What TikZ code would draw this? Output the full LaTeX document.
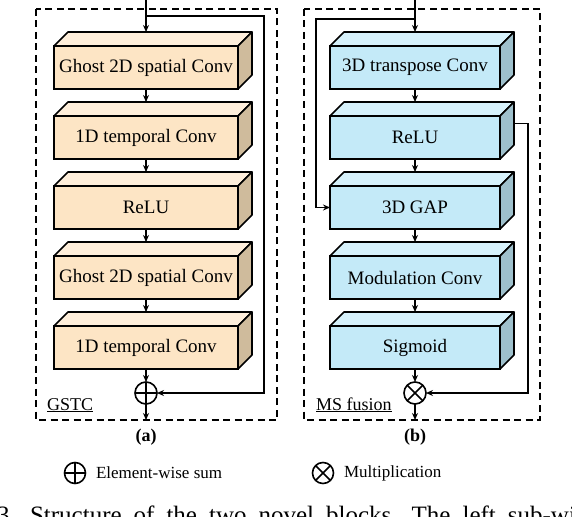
\documentclass[tikz,border=0pt]{standalone}
\usepackage{fontspec}
\setmainfont{Liberation Serif}
\usetikzlibrary{arrows.meta,positioning}
\definecolor{gsfront}{HTML}{FDE5C5}
\definecolor{gstop}{HTML}{FEEEDA}
\definecolor{gsside}{HTML}{CFBB9C}
\definecolor{msfront}{HTML}{C4EAF8}
\definecolor{mstop}{HTML}{D6F1FB}
\definecolor{msside}{HTML}{9EC0CC}
\newcommand{\dep}{14pt}

\begin{document}
\begin{tikzpicture}[x=1pt,y=-1pt,
  blk/.style={draw,line width=1.6pt,minimum height=43pt,inner sep=0pt,outer sep=0pt,
    font=\fontsize{19}{22}\selectfont},
  gs/.style={blk,fill=gsfront,minimum width=184pt},
  ms/.style={blk,fill=msfront,minimum width=170pt},
  face/.style={draw,line width=1.6pt,line join=round},
  op/.style={draw,circle,line width=1.6pt,minimum size=22pt,inner sep=0pt,outer sep=0pt},
  arr/.style={-{Stealth[length=7pt,width=6pt]},line width=1.4pt},
  frame/.style={line width=1.6pt,dash pattern=on 7pt off 4.5pt},
  lbl/.style={font=\fontsize{18}{20}\selectfont,anchor=base west,inner sep=0pt},
  txt/.style={font=\fontsize{17}{20}\selectfont}]
  \useasboundingbox (0,0) rectangle (572,516);
  % (a) GSTC
  \node[gs] (g1) at (146,67.5) {Ghost 2D spatial Conv};
  \node[gs,below=27pt of g1] (t1) {1D temporal Conv};
  \node[gs,below=27pt of t1] (rA) {ReLU};
  \node[gs,below=27pt of rA] (g2) {Ghost 2D spatial Conv};
  \node[gs,below=27pt of g2] (t2) {1D temporal Conv};
  \node[op,below=13pt of t2] (sum) {};
  % (b) MS fusion
  \node[ms] (tc) at (415,67.5) {3D transpose Conv};
  \node[ms,below=27pt of tc] (rB) {ReLU};
  \node[ms,below=27pt of rB] (gap) {3D GAP};
  \node[ms,below=27pt of gap] (mod) {Modulation Conv};
  \node[ms,below=27pt of mod] (sig) {Sigmoid};
  \node[op,below=13pt of sig] (mul) {};
  % top and side faces
  \foreach \b/\t/\s in {g1/gstop/gsside,t1/gstop/gsside,rA/gstop/gsside,g2/gstop/gsside,
    t2/gstop/gsside,tc/mstop/msside,rB/mstop/msside,gap/mstop/msside,mod/mstop/msside,
    sig/mstop/msside}{
    \filldraw[face,fill=\t] (\b.north west) -- ([shift={(\dep,\dep)}]\b.north west)
      -- ([shift={(\dep,\dep)}]\b.north east) -- (\b.north east) -- cycle;
    \filldraw[face,fill=\s] (\b.north east) -- ([shift={(\dep,\dep)}]\b.north east)
      -- ([shift={(\dep,\dep)}]\b.south east) -- (\b.south east) -- cycle;
  }
  \draw[line width=1.6pt] (sum.north) -- (sum.south) (sum.west) -- (sum.east);
  \draw[line width=1.6pt] (mul.north west) -- (mul.south east) (mul.north east) -- (mul.south west);
  % connectors
  \coordinate (inA) at (146,0);
  \coordinate (splitA) at (146,16);
  \coordinate (skipA) at (264,16);
  \coordinate (outA) at (146,420);
  \draw[arr] (inA) -- ([yshift=\dep]g1.north);
  \draw[arr] (splitA) -- (skipA) |- (sum.east);
  \foreach \a/\b in {g1/t1,t1/rA,rA/g2,g2/t2}
    \draw[arr] (\a.south) -- ([yshift=\dep]\b.north);
  \draw[arr] (t2.south) -- (sum.north);
  \draw[arr] (sum.south) -- (outA);
  \coordinate (inB) at (415,0);
  \coordinate (splitB) at (415,19);
  \coordinate (skipB) at (316,19);
  \coordinate (outB) at (415,420);
  \draw[arr] (inB) -- ([yshift=\dep]tc.north);
  \draw[arr] (splitB) -- (skipB) |- (gap.west);
  \foreach \a/\b in {tc/rB,rB/gap,gap/mod,mod/sig}
    \draw[arr] (\a.south) -- ([yshift=\dep]\b.north);
  \draw[arr] (sig.south) -- (mul.north);
  \draw[arr] ([shift={(\dep,\dep)}]rB.east) -- ++(14,0) |- (mul.east);
  \draw[arr] (mul.south) -- (outB);
  % frames and labels
  \draw[frame] (36,9) rectangle (277,420);
  \draw[frame] (304,9) rectangle (540,420);
  \node[lbl] (gstc) at (47,410) {\underline{GSTC}};
  \node[lbl] (msf) at (316,410) {\underline{MS fusion}};
  \node[txt,font=\bfseries\fontsize{18}{20}\selectfont] (capA) at (146,437) {(a)};
  \node[txt,font=\bfseries\fontsize{18}{20}\selectfont] (capB) at (415,437) {(b)};
  % legend
  \node[op,minimum size=21pt] (keyS) at (75,473) {};
  \draw[line width=1.6pt] (keyS.north) -- (keyS.south) (keyS.west) -- (keyS.east);
  \node[txt,right=7pt of keyS] (keyStxt) {Element-wise sum};
  \node[op,minimum size=21pt] (keyM) at (323,473) {};
  \draw[line width=1.6pt] (keyM.north west) -- (keyM.south east) (keyM.north east) -- (keyM.south west);
  \node[txt,right=7pt of keyM] (keyMtxt) {Multiplication};
  % cut-off caption
  \begin{scope}
    \clip (0,0) rectangle (572,516);
    \node[anchor=base west,inner sep=0pt,font=\fontsize{25}{30}\selectfont] (cap) at (-3,523)
      {\spaceskip=12pt 3. Structure of the two novel blocks. The left sub-wi};
  \end{scope}
\end{tikzpicture}
\end{document}
